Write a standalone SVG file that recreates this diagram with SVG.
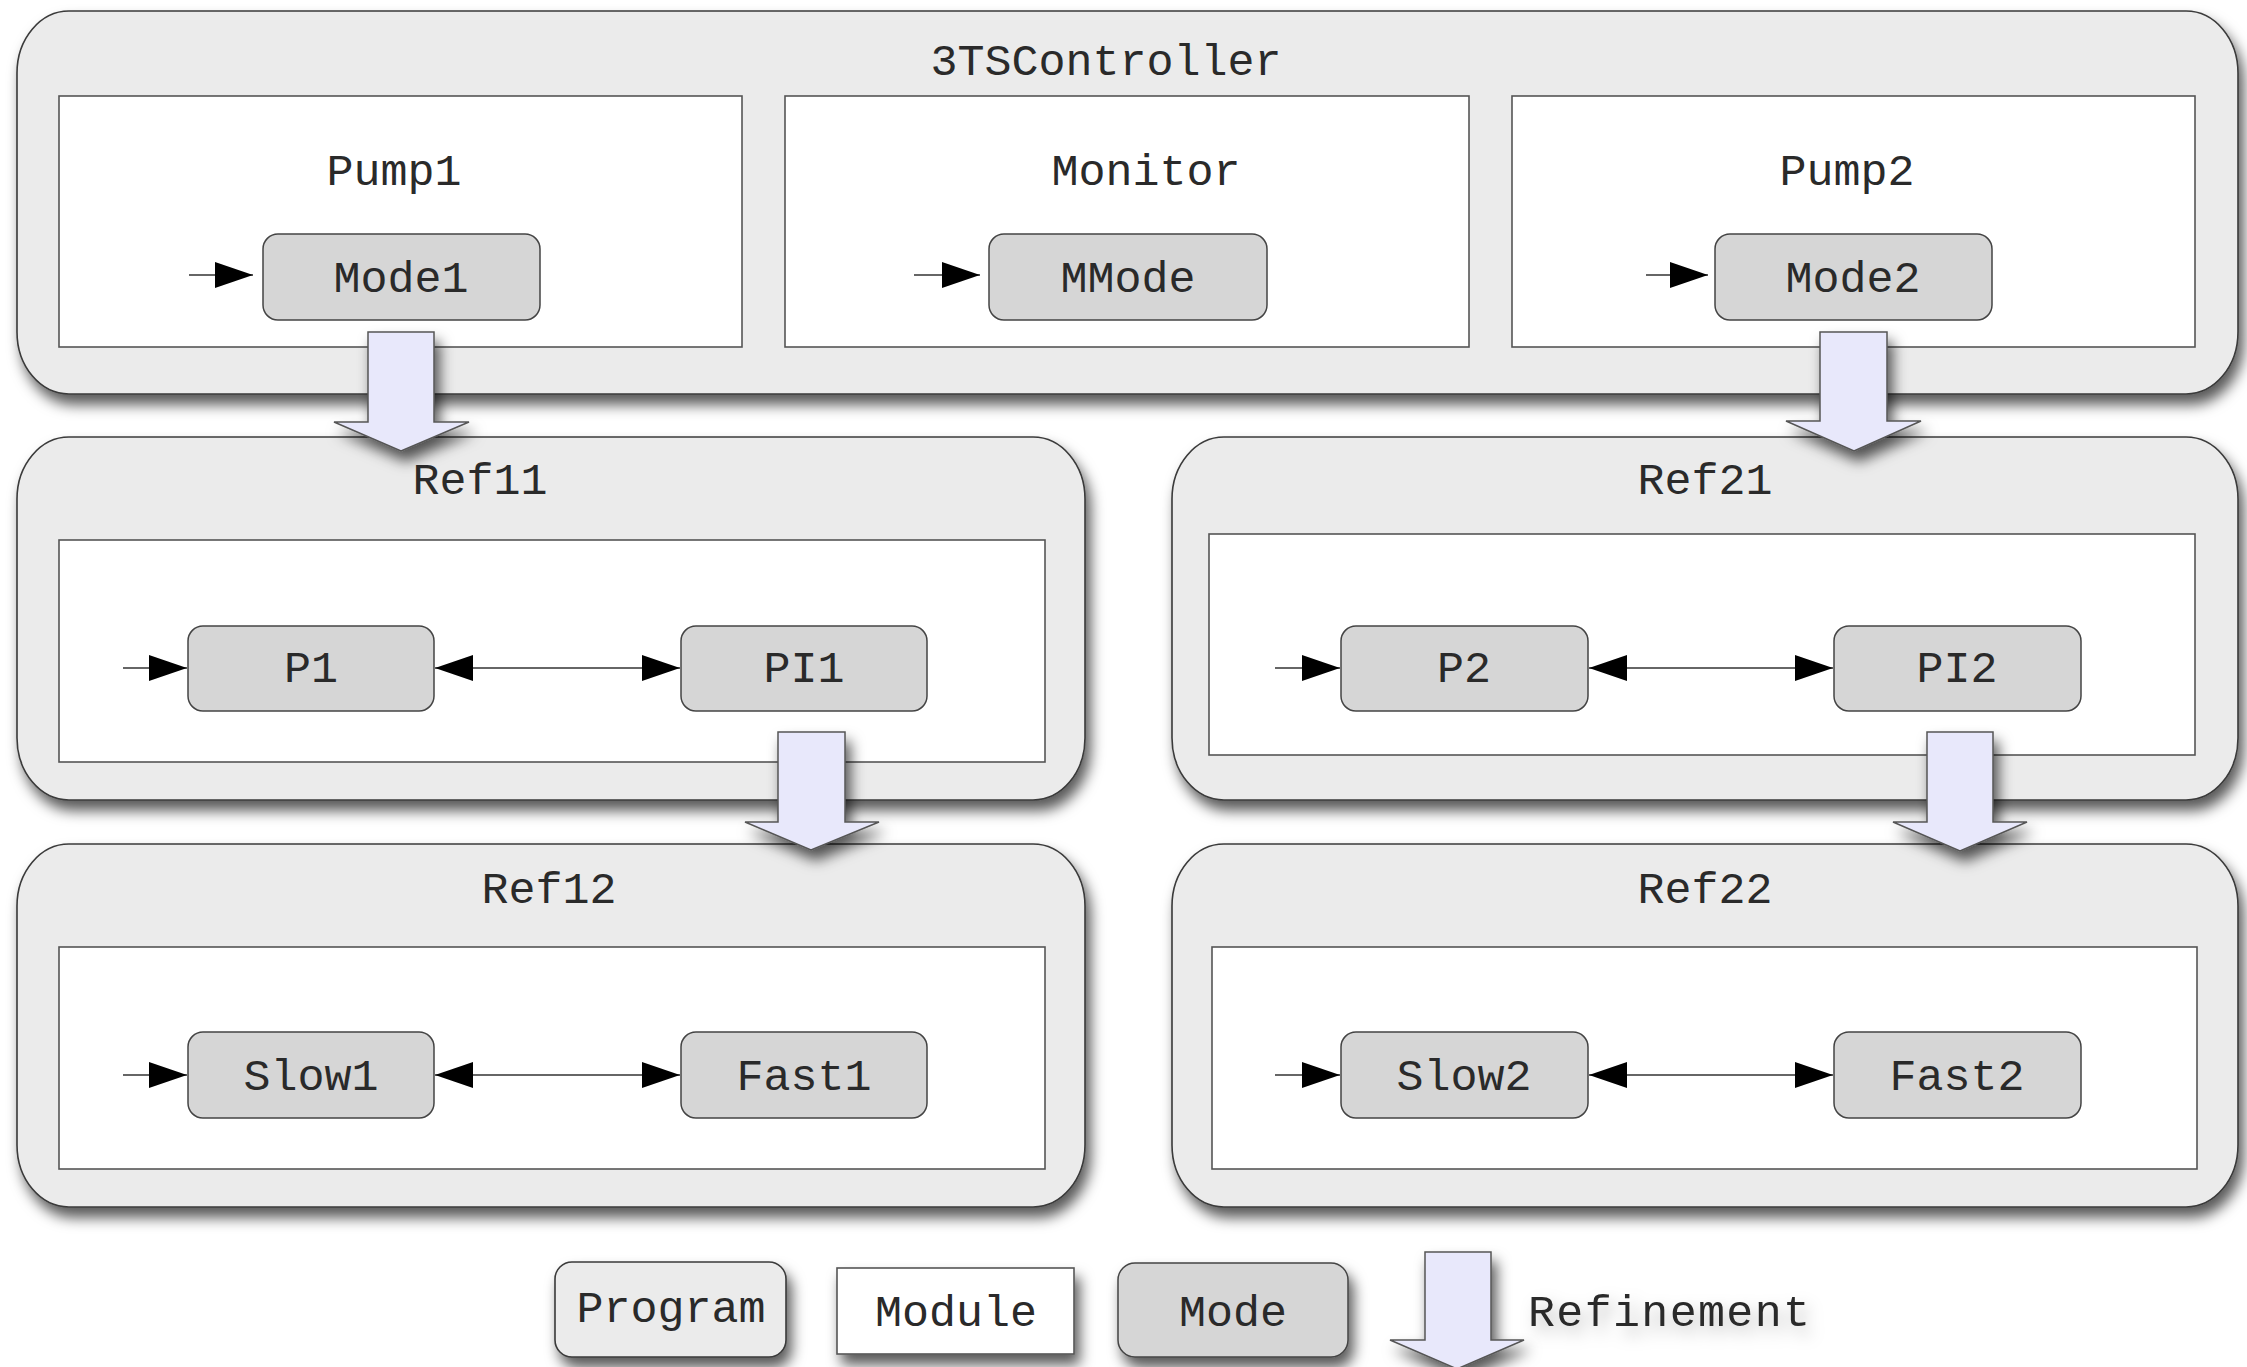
<svg xmlns="http://www.w3.org/2000/svg" width="2247" height="1367" viewBox="0 0 2247 1367">
<defs>
<style>
.prog{fill:#ebebeb;stroke:#3a3a3a;stroke-width:1.6}
.mod{fill:#ffffff;stroke:#555555;stroke-width:1.6}
.mode{fill:#d6d6d6;stroke:#444444;stroke-width:1.5}
.ref{fill:#e8e8fb;stroke:#555555;stroke-width:1.5}
.t{font-family:"Courier New","Liberation Mono",monospace;font-size:45px;fill:#2a2a2a;text-anchor:middle}
.tl{font-family:"Courier New","Liberation Mono",monospace;font-size:45px;fill:#2a2a2a}
.edge{stroke:#333333;stroke-width:1.6;fill:none}
.sh{filter:url(#shadow)}
</style>
<filter id="shadow" x="-10%" y="-10%" width="130%" height="140%">
<feDropShadow dx="5" dy="10" stdDeviation="7" flood-color="#000000" flood-opacity="0.65"/>
</filter>
<filter id="tshadow" x="-10%" y="-30%" width="130%" height="180%">
<feDropShadow dx="6" dy="8" stdDeviation="8" flood-color="#000000" flood-opacity="0.25"/>
</filter>
<marker id="ah" markerUnits="userSpaceOnUse" markerWidth="38" markerHeight="26" refX="38" refY="13" orient="auto-start-reverse">
<path d="M0,0 L38,13 L0,26 Z" fill="#000000"/>
</marker>
</defs>

<g id="prog-3TSController">
<rect class="prog sh" x="17" y="11" width="2221" height="383" rx="52" ry="62"/>
<text class="t" x="1106" y="75">3TSController</text>
</g>
<g id="mod-Pump1">
<rect class="mod" x="59" y="96" width="683" height="251"/>
<text class="t" x="394" y="185">Pump1</text>
</g>
<g id="mode-Mode1">
<rect class="mode" x="263" y="234" width="277" height="86" rx="15"/>
<text class="t" x="401" y="292">Mode1</text>
</g>
<g id="mod-Monitor">
<rect class="mod" x="785" y="96" width="684" height="251"/>
<text class="t" x="1146" y="185">Monitor</text>
</g>
<g id="mode-MMode">
<rect class="mode" x="989" y="234" width="278" height="86" rx="15"/>
<text class="t" x="1128" y="292">MMode</text>
</g>
<g id="mod-Pump2">
<rect class="mod" x="1512" y="96" width="683" height="251"/>
<text class="t" x="1847" y="185">Pump2</text>
</g>
<g id="mode-Mode2">
<rect class="mode" x="1715" y="234" width="277" height="86" rx="15"/>
<text class="t" x="1853" y="292">Mode2</text>
</g>

<g id="prog-Ref11">
<rect class="prog sh" x="17" y="437" width="1068" height="363" rx="52" ry="62"/>
<text class="t" x="480" y="494">Ref11</text>
</g>
<g id="mod-Ref11">
<rect class="mod" x="59" y="540" width="986" height="222"/>
</g>
<g id="mode-P1">
<rect class="mode" x="188" y="626" width="246" height="85" rx="15"/>
<text class="t" x="311" y="682">P1</text>
</g>
<g id="mode-PI1">
<rect class="mode" x="681" y="626" width="246" height="85" rx="15"/>
<text class="t" x="804" y="682">PI1</text>
</g>

<g id="prog-Ref21">
<rect class="prog sh" x="1172" y="437" width="1066" height="363" rx="52" ry="62"/>
<text class="t" x="1705" y="494">Ref21</text>
</g>
<g id="mod-Ref21">
<rect class="mod" x="1209" y="534" width="986" height="221"/>
</g>
<g id="mode-P2">
<rect class="mode" x="1341" y="626" width="247" height="85" rx="15"/>
<text class="t" x="1464" y="682">P2</text>
</g>
<g id="mode-PI2">
<rect class="mode" x="1834" y="626" width="247" height="85" rx="15"/>
<text class="t" x="1957" y="682">PI2</text>
</g>

<g id="prog-Ref12">
<rect class="prog sh" x="17" y="844" width="1068" height="363" rx="52" ry="62"/>
<text class="t" x="549" y="903">Ref12</text>
</g>
<g id="mod-Ref12">
<rect class="mod" x="59" y="947" width="986" height="222"/>
</g>
<g id="mode-Slow1">
<rect class="mode" x="188" y="1032" width="246" height="86" rx="15"/>
<text class="t" x="311" y="1090">Slow1</text>
</g>
<g id="mode-Fast1">
<rect class="mode" x="681" y="1032" width="246" height="86" rx="15"/>
<text class="t" x="804" y="1090">Fast1</text>
</g>

<g id="prog-Ref22">
<rect class="prog sh" x="1172" y="844" width="1066" height="363" rx="52" ry="62"/>
<text class="t" x="1705" y="903">Ref22</text>
</g>
<g id="mod-Ref22">
<rect class="mod" x="1212" y="947" width="985" height="222"/>
</g>
<g id="mode-Slow2">
<rect class="mode" x="1341" y="1032" width="247" height="86" rx="15"/>
<text class="t" x="1464" y="1090">Slow2</text>
</g>
<g id="mode-Fast2">
<rect class="mode" x="1834" y="1032" width="247" height="86" rx="15"/>
<text class="t" x="1957" y="1090">Fast2</text>
</g>

<g id="connectors">
<line class="edge" x1="189" y1="275" x2="253" y2="275" marker-end="url(#ah)"/>
<line class="edge" x1="914" y1="275" x2="980" y2="275" marker-end="url(#ah)"/>
<line class="edge" x1="1646" y1="275" x2="1708" y2="275" marker-end="url(#ah)"/>
<line class="edge" x1="123" y1="668" x2="187" y2="668" marker-end="url(#ah)"/>
<line class="edge" x1="435" y1="668" x2="680" y2="668" marker-start="url(#ah)" marker-end="url(#ah)"/>
<line class="edge" x1="1275" y1="668" x2="1340" y2="668" marker-end="url(#ah)"/>
<line class="edge" x1="1589" y1="668" x2="1833" y2="668" marker-start="url(#ah)" marker-end="url(#ah)"/>
<line class="edge" x1="123" y1="1075" x2="187" y2="1075" marker-end="url(#ah)"/>
<line class="edge" x1="435" y1="1075" x2="680" y2="1075" marker-start="url(#ah)" marker-end="url(#ah)"/>
<line class="edge" x1="1275" y1="1075" x2="1340" y2="1075" marker-end="url(#ah)"/>
<line class="edge" x1="1589" y1="1075" x2="1833" y2="1075" marker-start="url(#ah)" marker-end="url(#ah)"/>
<path class="ref sh" d="M368,332 L434,332 L434,422 L469,422 L401,451 L334,422 L368,422 Z"/>
<path class="ref sh" d="M1820,332 L1887,332 L1887,421 L1921,421 L1854,451 L1786,421 L1820,421 Z"/>
<path class="ref sh" d="M778,732 L845,732 L845,822 L879,822 L811,850 L745,822 L778,822 Z"/>
<path class="ref sh" d="M1927,732 L1993,732 L1993,822 L2027,822 L1960,851 L1893,822 L1927,822 Z"/>
</g>

<g id="legend">
<g id="legend-program">
<rect class="prog sh" x="555" y="1262" width="231" height="95" rx="17"/>
<text class="t" x="671" y="1322">Program</text>
</g>
<g id="legend-module">
<rect class="mod sh" x="837" y="1268" width="237" height="86"/>
<text class="t" x="956" y="1326">Module</text>
</g>
<g id="legend-mode">
<rect class="mode sh" x="1118" y="1263" width="230" height="94" rx="17"/>
<text class="t" x="1233" y="1326">Mode</text>
</g>
<g id="legend-refinement">
<path class="ref sh" d="M1425,1252 L1491,1252 L1491,1340 L1524,1340 L1457,1369 L1390,1340 L1425,1340 Z"/>
<text class="tl" x="1528" y="1326" textLength="282" lengthAdjust="spacing" style="filter:url(#tshadow)">Refinement</text>
</g>
</g>
</svg>
